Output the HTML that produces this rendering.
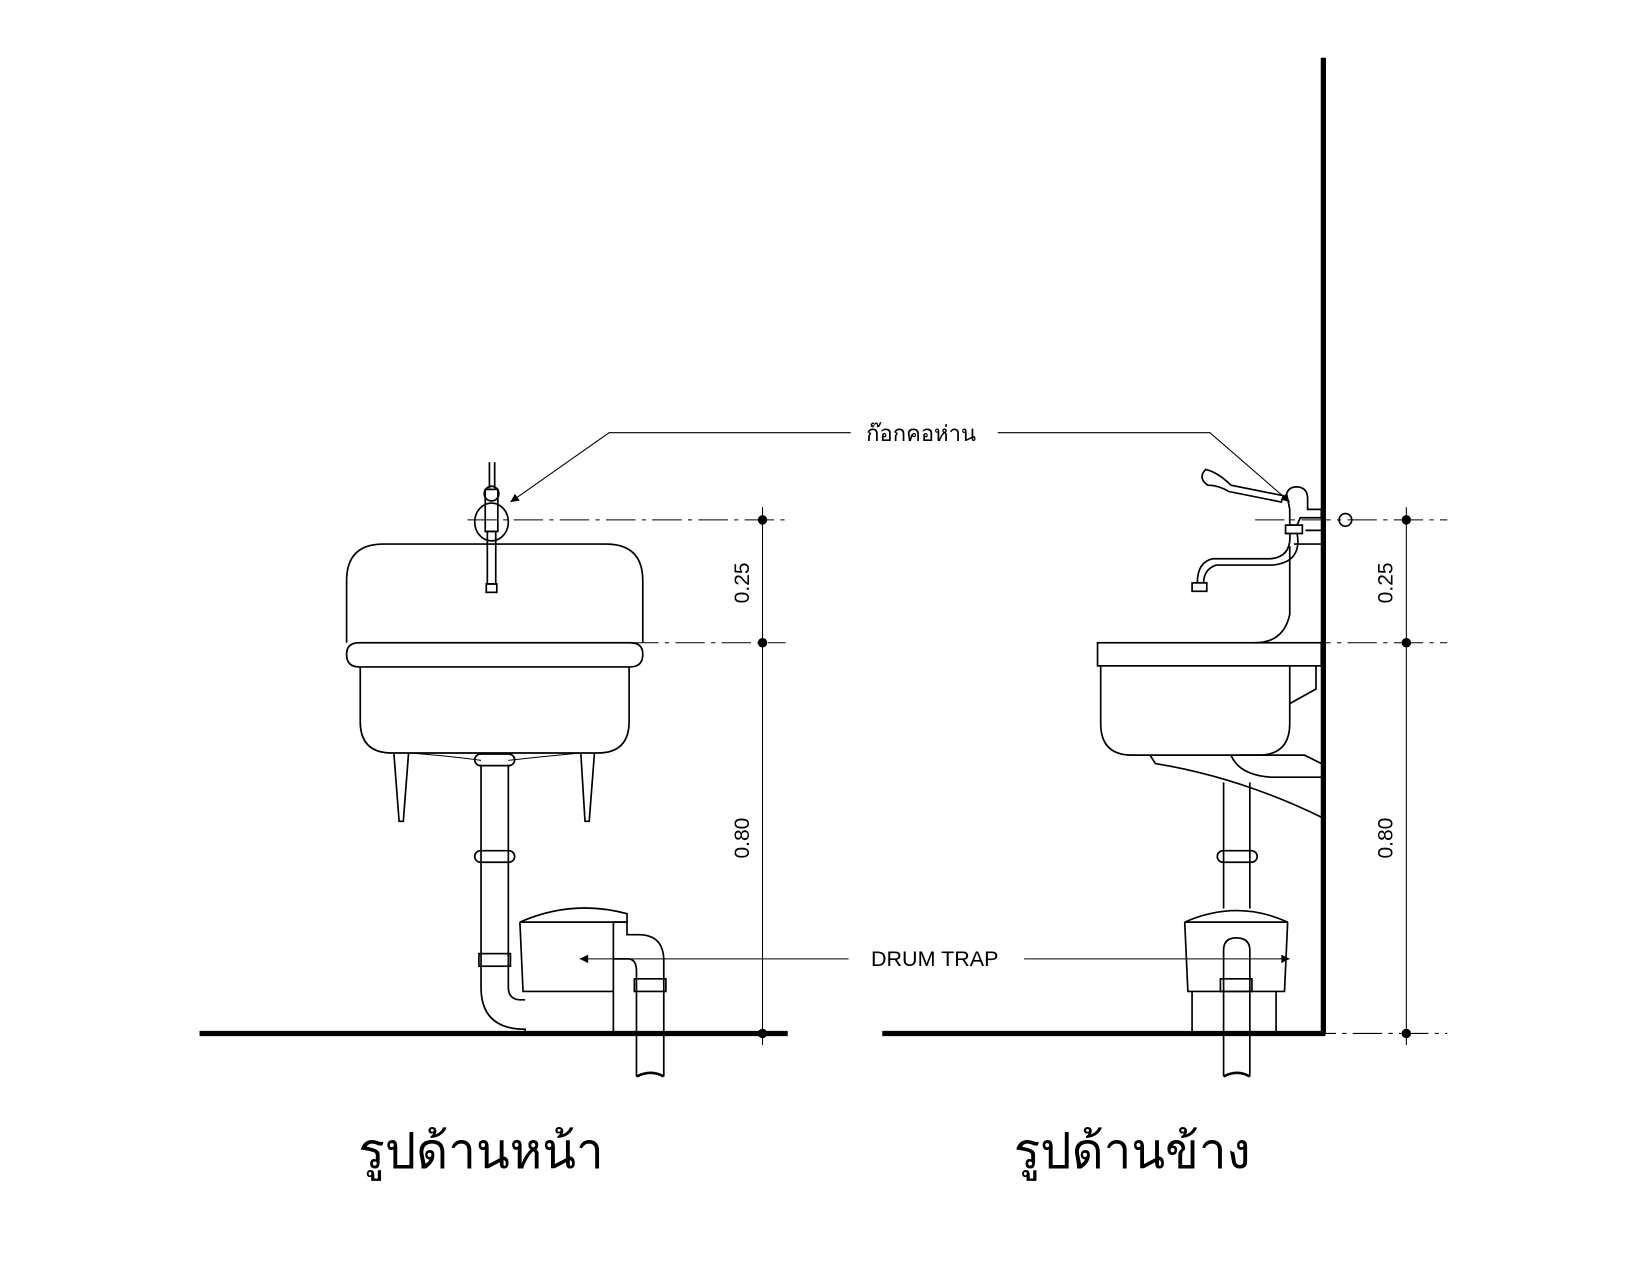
<!DOCTYPE html>
<html><head><meta charset="utf-8"><style>
html,body{margin:0;padding:0;background:#fff}
svg{display:block}
text{font-family:"Liberation Sans","Noto Sans CJK SC",sans-serif;fill:#000}
</style></head><body>
<svg width="1650" height="1275" viewBox="0 0 1571 1214" preserveAspectRatio="none" xmlns="http://www.w3.org/2000/svg">
<defs>
<marker id="ah" viewBox="0 0 10 10" refX="10" refY="5" markerWidth="24" markerHeight="8" orient="auto-start-reverse" markerUnits="userSpaceOnUse"><path d="M0,0 L10,5 L0,10 Z" fill="#000"/></marker>
</defs>
<g fill="none" stroke="#000" stroke-width="1.6">
<!-- LEFT VIEW -->
<line x1="190" y1="984" x2="750" y2="984" stroke-width="5"/>
<line x1="726" y1="483" x2="726" y2="995" stroke-width="1"/>
<line x1="445" y1="495" x2="748" y2="495" stroke-width="1" stroke-dasharray="28,6,4,6"/>
<line x1="555" y1="612" x2="748" y2="612" stroke-width="1" stroke-dasharray="28,6,4,6"/>
<path d="M330,612 L330,553 Q330,518 365,518 L577,518 Q612,518 612,553 L612,612"/>
<path d="M342,612 L600,612 Q612,612 612,623 Q612,635 600,635 L342,635 Q330,635 330,623 Q330,612 342,612 Z"/>
<path d="M343,635 L343,687 Q343,717 373,717 L569,717 Q599,717 599,687 L599,635"/>
<path d="M375,717 L380,782 L384,782 L389,717"/>
<path d="M553,717 L557,782 L561,782 L566,717"/>
<path d="M389,717 Q430,720 458,724 M484,724 Q520,720 553,717" stroke-width="1"/>
<path d="M458,728 L458,940 Q458,980 500,980 L500,984"/>
<path d="M484,728 L484,940 Q484,952 496,952 L500,952"/>
<rect x="452" y="718" width="38" height="11" rx="5.5"/>
<rect x="452" y="810" width="38" height="11" rx="5.5"/>
<rect x="456" y="908" width="30" height="12"/>
<path d="M495,878 Q545,856 597,870 L597,878 Z"/>
<path d="M495,878 L498,944 L584,944 L584,878 L597,878 L597,890 L608,890 Q632,890 632,915 L632,1025 M606,1025 L606,925 Q606,913 598,913 L584,913"/>
<path d="M584,944 L584,984"/>
<rect x="604" y="932" width="30" height="12"/>
<path d="M606,1025 Q620,1018 632,1025" stroke-width="2.5"/>
<ellipse cx="468" cy="497" rx="16" ry="18"/>
<path d="M466,440 L466,465 M471,440 L471,465"/>
<rect x="462" y="466" width="12" height="40"/>
<rect x="464" y="506" width="8" height="50"/>
<rect x="463" y="556" width="10" height="8"/>
<circle cx="468" cy="470" r="7"/>
<path d="M810,412 L580,412 L486,478" stroke-width="1" marker-end="url(#ah)"/>
<path d="M950,412 L1152,412 L1228,478" stroke-width="1" marker-end="url(#ah)"/>
<line x1="808" y1="913" x2="552" y2="913" stroke-width="1" marker-end="url(#ah)"/>
<line x1="975" y1="913" x2="1228" y2="913" stroke-width="1" marker-end="url(#ah)"/>

<!-- RIGHT VIEW -->
<line x1="1260" y1="55" x2="1260" y2="984" stroke-width="5"/>
<line x1="840" y1="984" x2="1262" y2="984" stroke-width="5"/>
<line x1="1339" y1="483" x2="1339" y2="995" stroke-width="1"/>
<line x1="1195" y1="495" x2="1378" y2="495" stroke-width="1" stroke-dasharray="28,6,4,6"/>
<line x1="1195" y1="612" x2="1378" y2="612" stroke-width="1" stroke-dasharray="28,6,4,6"/>
<line x1="1200" y1="984" x2="1378" y2="984" stroke-width="1" stroke-dasharray="28,6,4,6"/>
<circle cx="1281" cy="495" r="6"/>
<rect x="1045" y="612" width="213" height="22"/>
<path d="M1048,634 L1048,689 Q1048,719 1078,719 L1198,719 Q1228,719 1228,689 L1228,634"/>
<path d="M1228,670 L1253,656 L1253,634"/>
<path d="M1095,719 L1100,727 Q1180,740 1258,778"/>
<path d="M1172,719 Q1180,738 1210,740 L1258,740 M1180,719 L1242,719 L1258,727"/>
<path d="M1165,745 L1165,865 M1190,745 L1190,865"/>
<rect x="1159" y="810" width="38" height="11" rx="5.5"/>
<path d="M1128,878 Q1178,856 1226,878 Z"/>
<path d="M1128,878 L1131,944 L1223,944 L1226,878"/>
<path d="M1135,944 L1135,984 M1215,944 L1215,984"/>
<path d="M1165,1025 L1165,905 Q1165,893 1177,893 Q1190,893 1190,905 L1190,1025"/>
<rect x="1162" y="932" width="30" height="12"/>
<path d="M1165,1025 Q1178,1018 1190,1025" stroke-width="2.5"/>
<path d="M1148,447 Q1140,455 1150,462 Q1160,462 1170,468 L1220,478 L1222,472 L1172,462 Q1160,450 1148,447 Z"/>
<path d="M1225,470 Q1228,462 1238,464 Q1245,466 1245,475 L1245,485 L1258,485 L1258,493 L1238,493 L1235,500 L1228,500 L1228,485 Z"/>
<path d="M1224,500 L1240,500 L1240,508 L1224,508 Z"/>
<path d="M1228,508 Q1230,530 1210,532 L1155,532 Q1140,535 1140,555 M1235,508 Q1240,535 1212,538 L1158,538 Q1146,542 1146,555"/>
<rect x="1135" y="555" width="14" height="8"/>
<path d="M1243,505 L1258,505 M1232,518 L1258,518 M1228,520 L1228,585 Q1222,612 1195,612"/>
</g>
<circle cx="726" cy="495" r="4.5"/><circle cx="726" cy="612" r="4.5"/><circle cx="726" cy="984" r="4.5"/>
<circle cx="1339" cy="495" r="4.5"/><circle cx="1339" cy="612" r="4.5"/><circle cx="1339" cy="984" r="4.5"/>
<text x="0" y="0" font-size="20" transform="translate(713,555) rotate(-90)" text-anchor="middle">0.25</text>
<text x="0" y="0" font-size="20" transform="translate(713,798) rotate(-90)" text-anchor="middle">0.80</text>
<text x="0" y="0" font-size="20" transform="translate(1326,555) rotate(-90)" text-anchor="middle">0.25</text>
<text x="0" y="0" font-size="20" transform="translate(1326,798) rotate(-90)" text-anchor="middle">0.80</text>
<text x="877" y="420" font-size="21" text-anchor="middle">ก๊อกคอห่าน</text>
<text x="890" y="920" font-size="20.5" text-anchor="middle">DRUM TRAP</text>
<text x="458" y="1112" font-size="47" text-anchor="middle">รูปด้านหน้า</text>
<text x="1078" y="1112" font-size="47" text-anchor="middle">รูปด้านข้าง</text>
</svg>
</body></html>
